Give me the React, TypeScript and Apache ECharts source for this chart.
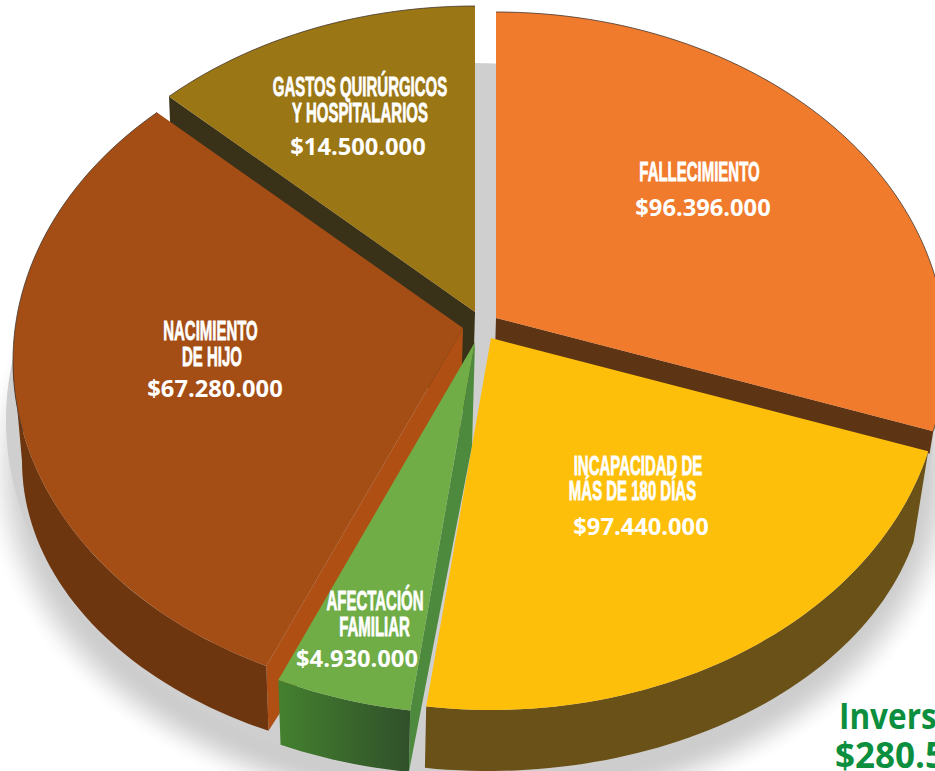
import React, { useEffect, useRef } from "react";
import * as echarts from "echarts";

// Printed labels, clockwise from the top
const categoryLines = [
  ["FALLECIMIENTO"],
  ["INCAPACIDAD DE", "MÁS DE 180 DÍAS"],
  ["AFECTACIÓN", "FAMILIAR"],
  ["NACIMIENTO", "DE HIJO"],
  ["GASTOS QUIRÚRGICOS", "Y HOSPITALARIOS"],
];
const amounts = ["$96.396.000", "$97.440.000", "$4.930.000", "$67.280.000", "$14.500.000"];
// Slice sizes as drawn in the picture (%): the source artwork is not proportional to the amounts
const drawnShares = [28.8, 23.5, 4.9, 30.9, 11.9];
const totalLines = ["Invers", "$280.5"];

// Styling / layout (not data)
const drawOrder = [4, 0, 3, 1, 2];
const topColors = ["#F07B2D", "#FDBF0A", "#70AD47", "#A44E16", "#9B7615"];
const cutColors = ["#5D3414", "", "#4E8A3E", "#B04F14", "#3A3119"];
const outerColors: any[] = [
  "",
  "#6A5117",
  { type: "linear", x: 0, y: 0, x2: 1, y2: 0, colorStops: [{ offset: 0, color: "#44812F" }, { offset: 1, color: "#30502A" }] },
  "#6E360F",
  "",
];
// part of each rim (degrees) that carries the thin dark outline
const rimOutline: (number[] | null)[] = [[0, 360], null, null, [258, 360], [0, 360]];
const apexes = [[496, 318], [491, 338], [475, 342], [463, 328], [475, 312]];
// which cut wall is visible: 1 = end edge, 0 = start edge, -1 = none
const cutEdge = [1, -1, 0, 0, 0];
const cutDepth = [0.25, 1, 1, 1, 1];
const nameAnchors = [
  [[699.5, 172]],
  [[638, 466], [632.5, 491]],
  [[375, 601], [374.5, 627]],
  [[210.5, 331], [212, 357]],
  [[360, 87], [360, 113]],
];
const amountAnchors = [[703, 207], [641, 526], [357, 658], [215, 388], [358, 146]];

const RX = 450, RY = 339, DROP = 33;
const BRX = 438, BRY = 300, BDROP = 133, BSHIFT = -3;
const rad = (d: number) => (d * Math.PI) / 180;
const topPt = (a: number[], deg: number) => [a[0] + RX * Math.sin(rad(deg)), a[1] + DROP - RY * Math.cos(rad(deg))];
const botPt = (a: number[], deg: number) => [a[0] + BSHIFT + BRX * Math.sin(rad(deg)), a[1] + BDROP - BRY * Math.cos(rad(deg))];
const botApex = (a: number[]) => [a[0] + BSHIFT, a[1] + BDROP - (DROP * BRY) / RY];
const lerp = (p: number[], q: number[], t: number) => [p[0] + (q[0] - p[0]) * t, p[1] + (q[1] - p[1]) * t];

function arc(fn: (a: number[], d: number) => number[], a: number[], from: number, to: number) {
  const n = Math.max(2, Math.ceil(Math.abs(to - from) / 1.5));
  const pts: number[][] = [];
  for (let i = 0; i <= n; i++) pts.push(fn(a, from + ((to - from) * i) / n));
  return pts;
}

const total = drawnShares.reduce((s, v) => s + v, 0);

const nameFont = { fontFamily: "'Liberation Sans', sans-serif", fontWeight: "bold", fontSize: 28 };
const amountFont = { fontFamily: "'Open Sans', sans-serif", fontWeight: "bold", fontSize: 23.7 };

function renderSlice(params: any, api: any) {
  const i = api.value(1);
  let start = 0;
  for (let k = 0; k < i; k++) start += drawnShares[k];
  const from = (start / total) * 360;
  const to = from + (api.value(0) / total) * 360;
  const a = apexes[i];
  const children: any[] = [];

  if (cutEdge[i] >= 0) {
    const d = cutEdge[i] === 1 ? to : from;
    const t = cutDepth[i];
    const corner = topPt(a, d);
    children.push({
      type: "polygon",
      shape: { points: [a, corner, lerp(corner, botPt(a, d), t), lerp(a, botApex(a), t)] },
      style: { fill: cutColors[i] },
    });
  }
  if (outerColors[i]) {
    const f = Math.max(from, 90), t = Math.min(to, 270);
    children.push({
      type: "polygon",
      shape: { points: [...arc(topPt, a, f, t), ...arc(botPt, a, t, f)] },
      style: { fill: outerColors[i] },
    });
  }
  children.push({
    type: "polygon",
    shape: { points: [a, ...arc(topPt, a, from, to)] },
    style: { fill: topColors[i] },
  });
  const rim = rimOutline[i];
  if (rim) {
    children.push({
      type: "polyline",
      shape: { points: arc(topPt, a, Math.max(from, rim[0]), Math.min(to, rim[1])) },
      style: { fill: "none", stroke: "rgba(70,55,45,0.8)", lineWidth: 1 },
    });
  }
  categoryLines[i].forEach((line, l) => {
    const [x, y] = nameAnchors[i][l];
    children.push({
      type: "text", x, y, scaleX: 0.535,
      style: { text: line, x: 0, y: 0, align: "center", verticalAlign: "middle", fill: "#fff", stroke: "#fff", lineWidth: 0.8, ...nameFont },
    });
  });
  const [vx, vy] = amountAnchors[i];
  children.push({
    type: "text", x: vx, y: vy,
    style: { text: amounts[i], x: 0, y: 0, align: "center", verticalAlign: "middle", fill: "#fff", ...amountFont },
  });
  return { type: "group", children };
}

// Soft drop shadow: stacked ellipses from white to grey, then the crisp grey plate
const SHADOW_STEPS = 28;
function renderShadow() {
  const ellipsePts = (cx: number, cy: number, rx: number, ry: number) => {
    const pts: number[][] = [];
    for (let d = 0; d < 360; d += 2) pts.push([cx + rx * Math.sin(rad(d)), cy - ry * Math.cos(rad(d))]);
    return pts;
  };
  const children: any[] = [];
  for (let k = 0; k < SHADOW_STEPS; k++) {
    const t = k / (SHADOW_STEPS - 1);
    const ease = t * t * (3 - 2 * t);
    const g = Math.round(255 - (255 - 205) * ease);
    children.push({
      type: "polygon",
      shape: { points: ellipsePts(475, 470, 495 - 50 * t, 360 - 42 * t) },
      style: { fill: `rgb(${g},${g},${g})` },
    });
  }
  children.push({
    type: "polygon",
    shape: { points: ellipsePts(470, 420, 464, 357) },
    style: { fill: "rgb(207,207,207)" },
  });
  return { type: "group", children };
}

export default function App() {
  const ref = useRef<HTMLDivElement>(null);
  useEffect(() => {
    if (!ref.current) return;
    const chart = echarts.init(ref.current, undefined, { renderer: "svg" });
    chart.setOption({
      animation: false,
      backgroundColor: "#ffffff",
      graphic: [
        {
          type: "text", z: 10, x: 839, y: 715, scaleX: 0.9, silent: true,
          style: { text: totalLines[0], x: 0, y: 0, align: "left", verticalAlign: "middle", fill: "#0B8F3E", fontFamily: "'Open Sans', sans-serif", fontWeight: "bold", fontSize: 35 },
        },
        {
          type: "text", z: 10, x: 835, y: 754, silent: true,
          style: { text: totalLines[1], x: 0, y: 0, align: "left", verticalAlign: "middle", fill: "#0B8F3E", fontFamily: "'Open Sans', sans-serif", fontWeight: "bold", fontSize: 35 },
        },
      ],
      series: [
        {
          type: "custom",
          coordinateSystem: "none",
          silent: true,
          z: 1,
          renderItem: renderShadow,
          data: [[0]],
        },
        {
          type: "custom",
          coordinateSystem: "none",
          silent: true,
          z: 2,
          renderItem: renderSlice,
          data: drawOrder.map((i) => [drawnShares[i], i]),
        },
      ],
    });
    return () => chart.dispose();
  }, []);
  return <div ref={ref} style={{ position: "absolute", left: 0, top: 0, width: 935, height: 771, overflow: "hidden" }} />;
}
